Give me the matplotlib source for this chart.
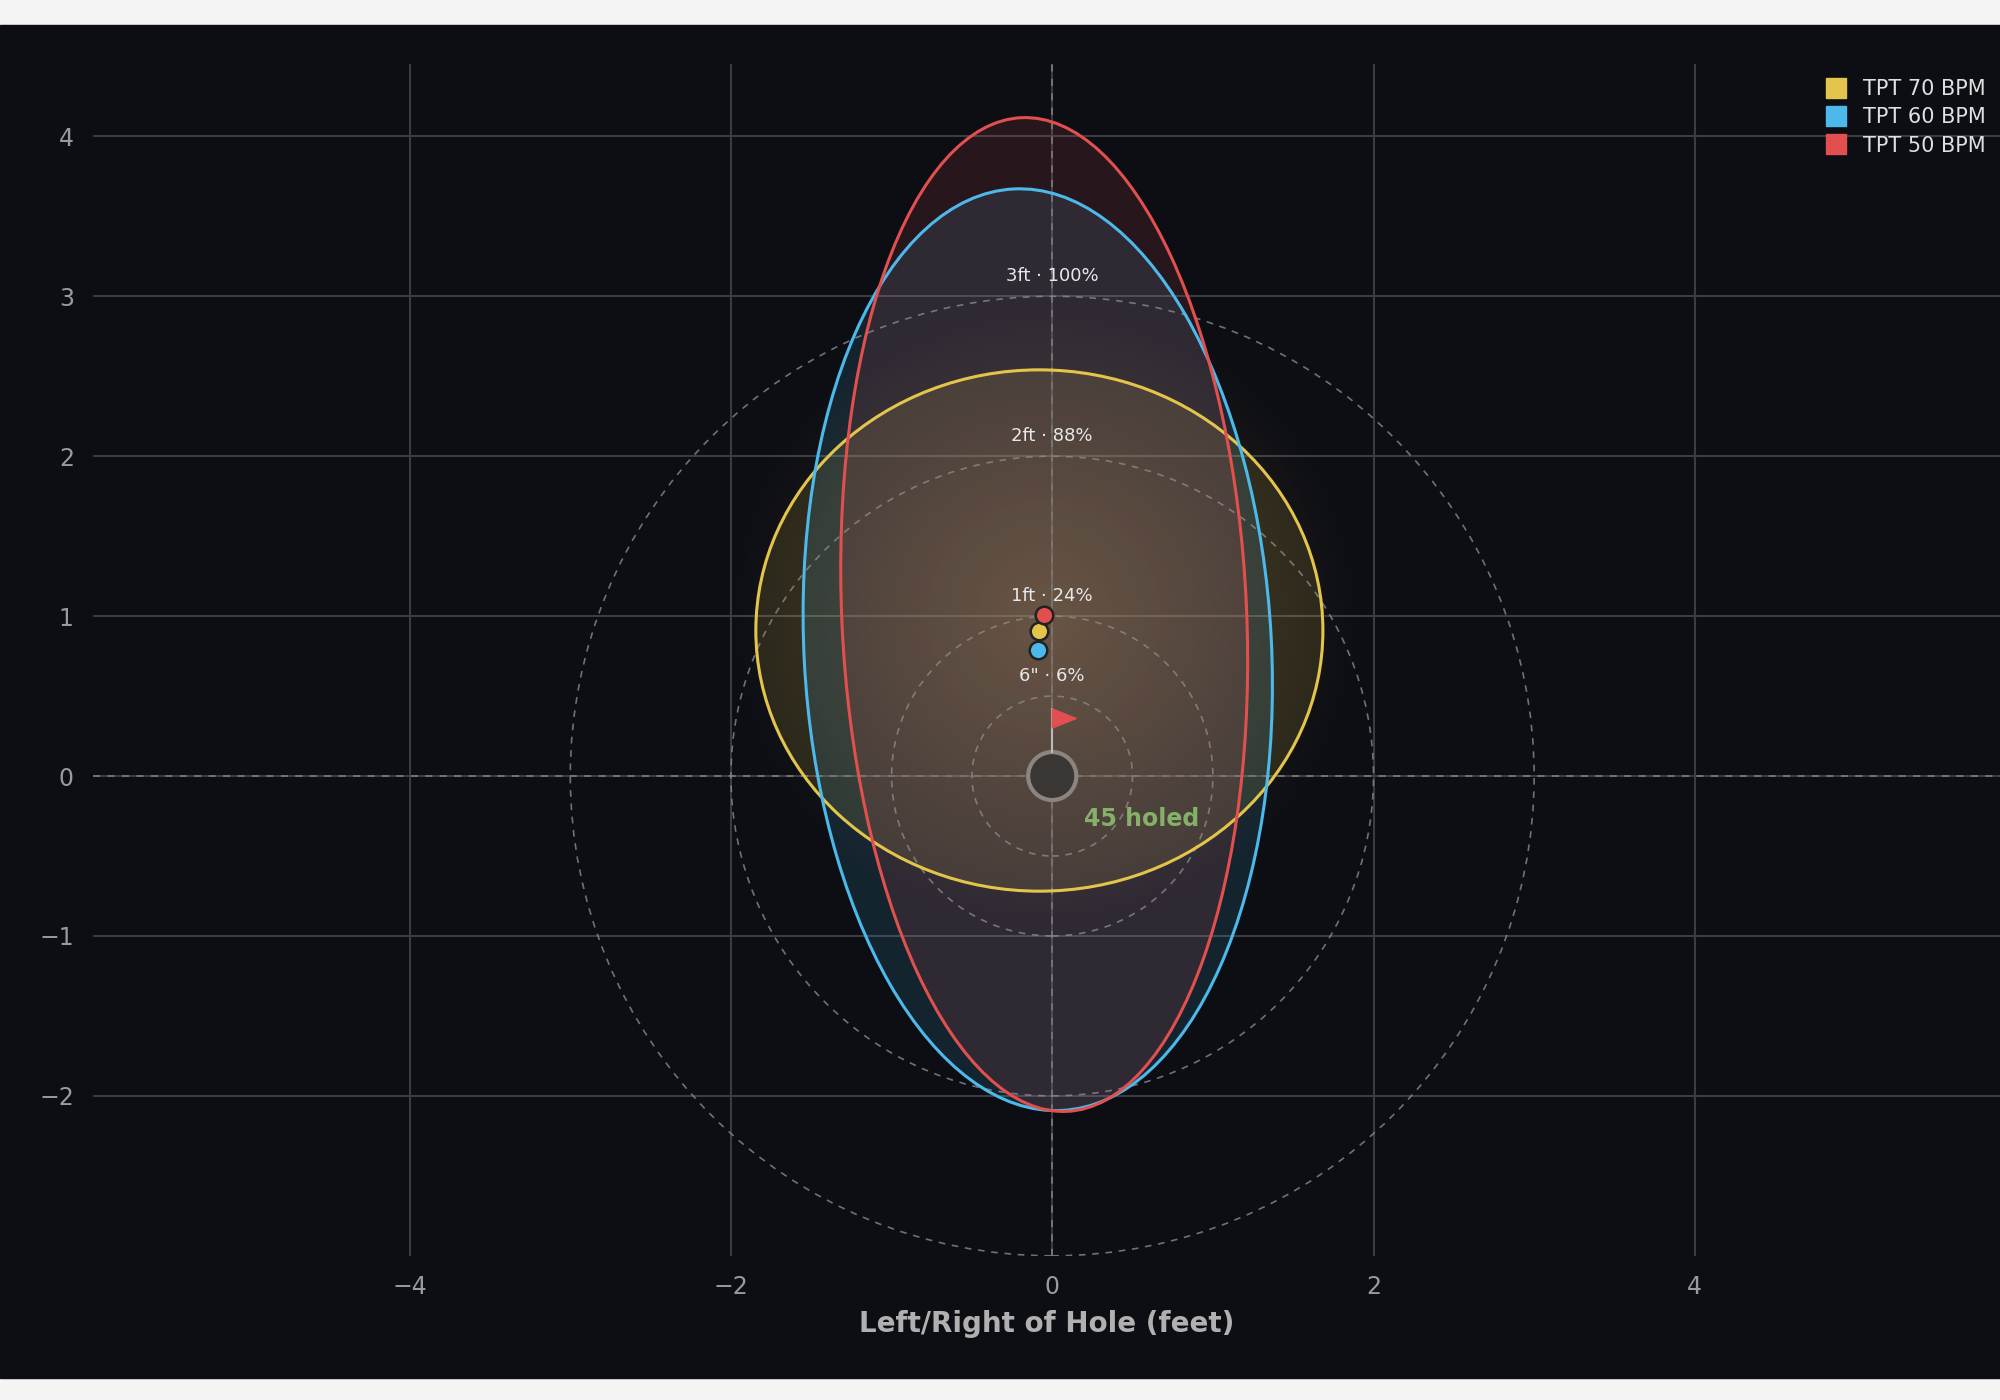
import numpy as np
import matplotlib
matplotlib.use("Agg")
import matplotlib.pyplot as plt
from matplotlib.patches import Ellipse, Circle, Polygon
from matplotlib.lines import Line2D

series = ["TPT 70 BPM", "TPT 60 BPM", "TPT 50 BPM"]
colors = ["#e3c54b", "#4cb9ea", "#e24f4f"]
centers_x = [-0.08, -0.09, -0.05]
centers_y = [0.91, 0.79, 1.01]
widths = [3.53, 2.91, 2.52]
heights = [3.26, 5.77, 6.22]
angles = [0.0, 3.0, 2.6]
ring_radii = [0.5, 1, 2, 3]
ring_labels = ['6" · 6%', "1ft · 24%", "2ft · 88%", "3ft · 100%"]
holed = 45

bg = "#0c0e14"
fig = plt.figure(figsize=(20, 14), dpi=100, facecolor="#f4f4f4")
fig.patches.append(plt.Rectangle((0, 0.016), 1, 0.966, transform=fig.transFigure, color=bg, zorder=-10))
ax = fig.add_axes([0.0466, 0.103, 0.9534, 0.851])
ax.set_facecolor(bg)
ax.set_xlim(-5.97, 5.9)
ax.set_ylim(-3.0, 4.45)
for s in ax.spines.values():
    s.set_visible(False)
ax.set_xticks([-4, -2, 0, 2, 4])
ax.set_yticks([-2, -1, 0, 1, 2, 3, 4])
ax.tick_params(colors="#9a9a9a", labelsize=17, length=0, pad=14)
ax.grid(True, color="#3a3c42", lw=1.5)
ax.set_axisbelow(True)
ax.set_xlabel("Left/Right of Hole (feet)", color="#b0b0b0", fontsize=20, fontweight="bold", labelpad=8)

# center glow
xx, yy = np.meshgrid(np.linspace(-2, 2, 300), np.linspace(-1, 3, 300))
r = np.sqrt((xx + 0.05) ** 2 + (yy - 1.0) ** 2)
glow = np.zeros((300, 300, 4))
glow[..., 0] = 0.85; glow[..., 1] = 0.6; glow[..., 2] = 0.35
glow[..., 3] = np.clip(0.28 * (1 - r / 2.0), 0, 1)
ax.imshow(glow, extent=[-2, 2, -1, 3], origin="lower", zorder=1, aspect="auto")
ax.set_xlim(-5.97, 5.9)
ax.set_ylim(-3.0, 4.45)

for cx, cy, w, h, a, c in zip(centers_x, centers_y, widths, heights, angles, colors):
    ax.add_patch(Ellipse((cx, cy), w, h, angle=a, facecolor=c, alpha=0.13, edgecolor="none", zorder=2))
    ax.add_patch(Ellipse((cx, cy), w, h, angle=a, facecolor="none", edgecolor=c, lw=2.2, zorder=4))

ax.axhline(0, color="#777", lw=1.3, ls=(0, (4, 4)), zorder=3)
ax.axvline(0, color="#777", lw=1.3, ls=(0, (4, 4)), zorder=3)
for rr, lab in zip(ring_radii, ring_labels):
    ax.add_patch(Circle((0, 0), rr, fill=False, edgecolor="#8a8a8a", lw=1.2, ls=(0, (4, 4)), alpha=0.8, zorder=3))
    ax.text(0, rr + 0.07, lab, color="#e8e8e8", fontsize=13, ha="center", va="bottom", zorder=6)

# hole and flag
ax.add_patch(Circle((0, 0), 0.15, facecolor="#3a3633", edgecolor="#8a8580", lw=3, zorder=5))
ax.plot([0, 0], [0.15, 0.42], color="#bbbbbb", lw=1.5, zorder=5)
ax.add_patch(Polygon([[0.0, 0.42], [0.0, 0.30], [0.15, 0.36]], closed=True, color="#e05050", zorder=5))
ax.text(0.2, -0.31, f"{holed} holed", color="#86b06a", fontsize=17, fontweight="bold", zorder=6)

for cx, cy, c in zip(centers_x, centers_y, colors):
    ax.scatter([cx], [cy], s=160, color=c, edgecolor="#222", lw=1.8, zorder=7)

handles = [Line2D([], [], marker="s", ls="", color=c, markersize=14) for c in colors]
leg = ax.legend(handles, series, loc="upper right", frameon=False, fontsize=15, labelcolor="#e0e0e0",
                handletextpad=0.3, borderaxespad=0.3, labelspacing=0.4)
fig.savefig("out.png", dpi=100, facecolor=fig.get_facecolor())
